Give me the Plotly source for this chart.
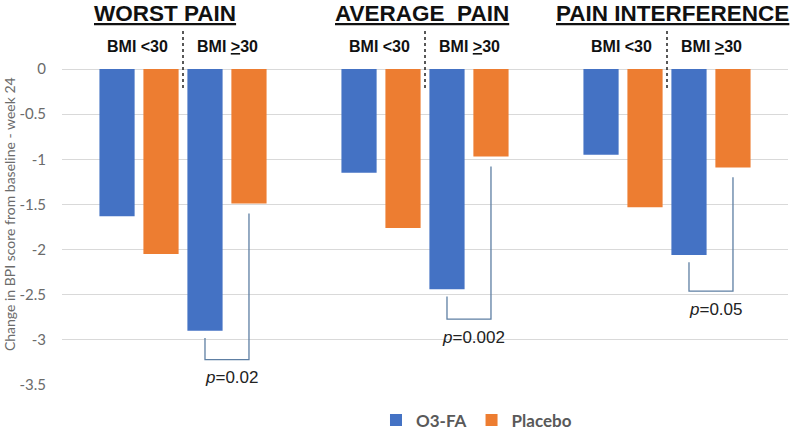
import plotly.graph_objects as go

# ---- data ----
categories = ["WORST PAIN", "AVERAGE  PAIN", "PAIN INTERFERENCE"]
o3_bmi_lt30 = [-1.63, -1.15, -0.95]
placebo_bmi_lt30 = [-2.05, -1.76, -1.53]
o3_bmi_ge30 = [-2.90, -2.44, -2.06]
placebo_bmi_ge30 = [-1.49, -0.97, -1.09]
p_values = ["0.02", "0.002", "0.05"]
bracket_bottom = [-3.22, -2.77, -2.46]
y_ticks = [0, -0.5, -1, -1.5, -2, -2.5, -3, -3.5]

BLUE = "#4472C4"
ORANGE = "#ED7D31"
x = list(range(len(categories)))

bargap = 0.273
groupgap = 0.2
n_bars = 4
slot = (1 - bargap) / n_bars
offsets = [-(1 - bargap) / 2 + slot * (k + 0.5) for k in range(n_bars)]

fig = go.Figure()
series = [
    ("<b>O3-FA</b>", o3_bmi_lt30, BLUE, True),
    ("<b>Placebo</b>", placebo_bmi_lt30, ORANGE, True),
    ("<b>O3-FA</b>", o3_bmi_ge30, BLUE, False),
    ("<b>Placebo</b>", placebo_bmi_ge30, ORANGE, False),
]
for name, vals, col, show in series:
    fig.add_trace(go.Bar(x=x, y=vals, name=name, marker_color=col,
                         marker_line_width=0, showlegend=show))

shapes = []
annotations = []
title_off = [-0.076, -0.014, 0.022]
for i, cat in enumerate(categories):
    annotations.append(dict(x=i + title_off[i], y=1.175, xref="x", yref="paper",
                            text=f"<b><u>{cat}</u></b>", showarrow=False,
                            font=dict(family="Liberation Sans, Arial", size=22.5, color="#111"),
                            xanchor="center", yanchor="middle"))
    annotations.append(dict(x=i - 0.19, y=1.07, xref="x", yref="paper",
                            text="<b>BMI <30</b>", showarrow=False,
                            font=dict(family="Liberation Sans, Arial", size=16, color="#111"),
                            xanchor="center", yanchor="middle"))
    annotations.append(dict(x=i + 0.185, y=1.07, xref="x", yref="paper",
                            text="<b>BMI <u>></u>30</b>", showarrow=False,
                            font=dict(family="Liberation Sans, Arial", size=16, color="#111"),
                            xanchor="center", yanchor="middle"))
    shapes.append(dict(type="line", xref="x", yref="paper", x0=i, x1=i,
                       y0=0.94, y1=1.13,
                       line=dict(color="#222", width=1.5, dash="3px,3px")))
    xl = i + offsets[2]
    xr = i + offsets[3]
    y_start = o3_bmi_ge30[i] - 0.08
    y_end = placebo_bmi_ge30[i] - 0.11
    yb = bracket_bottom[i]
    shapes.append(dict(type="path", xref="x", yref="y",
                       path=f"M {xl},{y_start} L {xl},{yb} L {xr},{yb} L {xr},{y_end}",
                       line=dict(color="#5E7FA3", width=1.3)))
    annotations.append(dict(x=(xl + xr) / 2 + 0.02, y=yb - 0.2, xref="x", yref="y",
                            text=f"<i>p</i>={p_values[i]}", showarrow=False,
                            font=dict(family="Liberation Sans, Arial", size=17, color="#222"),
                            xanchor="center", yanchor="middle"))

# y-axis title
annotations.append(dict(x=-0.072, y=0.54, xref="paper", yref="paper",
                        text="Change in BPI score from baseline - week 24",
                        textangle=-90, showarrow=False,
                        font=dict(family="Lato", size=14, color="#6b6b6b"),
                        xanchor="center", yanchor="middle"))

fig.update_layout(
    width=800, height=432,
    margin=dict(l=62, r=12, t=69, b=46.5, autoexpand=False),
    barmode="group", bargap=bargap, bargroupgap=groupgap,
    plot_bgcolor="white", paper_bgcolor="white",
    shapes=shapes, annotations=annotations,
    legend=dict(orientation="h", x=0.4325, xanchor="left", y=-0.055, yanchor="top",
                font=dict(family="Lato, Open Sans", size=17, color="#595959"),
                itemwidth=30, traceorder="normal"),
    font=dict(family="Lato"),
)
fig.update_xaxes(range=[-0.5, 2.5], showticklabels=False, showgrid=False,
                 zeroline=False, showline=False)
fig.update_yaxes(range=[-3.5, 0], tickvals=y_ticks,
                 ticktext=[str(v) for v in y_ticks],
                 showgrid=True, gridcolor="#D9D9D9", gridwidth=1,
                 zeroline=True, zerolinecolor="#D9D9D9", zerolinewidth=1,
                 ticks="outside", ticklen=12, tickcolor="rgba(0,0,0,0)",
                 tickfont=dict(family="Lato", size=15, color="#6b6b6b"))

fig.write_html("out.html", config={"displayModeBar": False},
               post_script="document.body.style.margin='0px';document.body.style.overflow='hidden';")
